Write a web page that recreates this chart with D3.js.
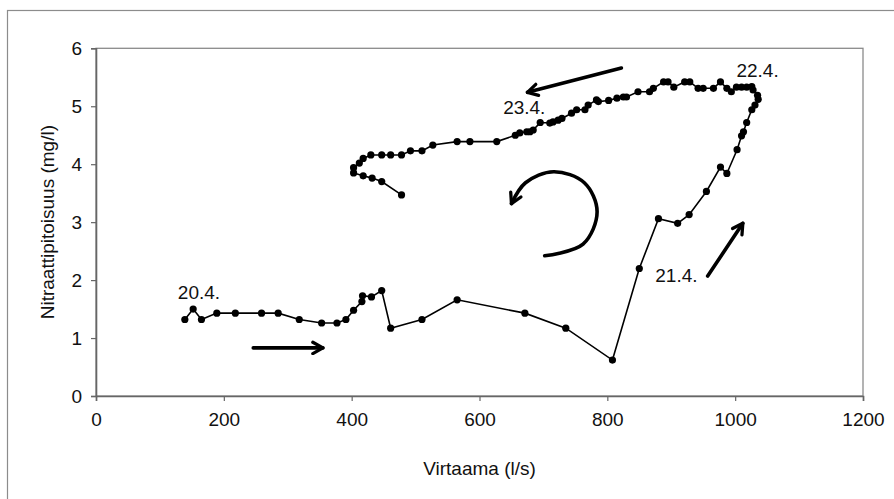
<!DOCTYPE html>
<html>
<head>
<meta charset="utf-8">
<script src="https://d3js.org/d3.v7.min.js"></script>
<style>
  html, body { margin: 0; padding: 0; background: #fff; }
  svg { display: block; }
  text { font-family: "Liberation Sans", Arial, sans-serif; fill: #111; }
</style>
</head>
<body>
<script>
// ---- Data ----
const flow = [139,152,165,189,218,259,285,318,353,377,391,403,416,417,431,447,461,510,565,671,735,808,
  850,880,910,928,955,977,987,1003,1010,1013,1018,1026,1031,1036,1035,1028,1026,1018,1010,1002,994,987,977,
  966,950,942,929,921,904,895,888,872,866,848,830,825,815,802,786,783,770,765,752,744,729,723,715,710,695,
  684,679,674,663,656,627,585,565,527,510,492,478,461,447,430,418,412,403,403,418,432,447,478];
const nitrate = [1.32,1.50,1.32,1.43,1.43,1.43,1.43,1.32,1.26,1.26,1.32,1.48,1.63,1.73,1.71,1.82,1.17,1.32,1.66,1.43,1.17,0.62,
  2.20,3.06,2.98,3.13,3.53,3.95,3.84,4.25,4.49,4.56,4.72,4.94,5.02,5.12,5.19,5.28,5.34,5.33,5.33,5.33,5.25,5.31,5.42,
  5.31,5.31,5.31,5.42,5.42,5.33,5.42,5.42,5.31,5.25,5.25,5.16,5.16,5.14,5.10,5.08,5.11,5.02,4.94,4.94,4.88,4.79,4.76,4.73,4.71,4.72,
  4.59,4.56,4.56,4.54,4.50,4.39,4.39,4.39,4.33,4.23,4.23,4.16,4.16,4.16,4.16,4.10,4.02,3.94,3.85,3.80,3.76,3.70,3.47];
const xTicks = [0,200,400,600,800,1000,1200];
const yTicks = [0,1,2,3,4,5,6];
const dateLabels = ["20.4.","21.4.","22.4.","23.4."];
const dateLabelX = [128,875,1002,637];
const dateLabelY = [1.67,1.97,5.51,4.87];
const xTitle = "Virtaama (l/s)";
const yTitle = "Nitraattipitoisuus (mg/l)";
// direction arrows (data space)
const arrowRight = [[246,0.83],[355,0.83]];
const arrowTop = [[822,5.66],[675,5.24]];
const arrowUp = [[957,2.07],[1012,2.98]];
const arrowCurl = [[702,2.42],[762,2.62],[784,3.18],[764,3.68],[716,3.87],[672,3.68],[650,3.32]];

// ---- Layout ----
const W = 894, H = 499;
const pLeft = 96, pRight = 863, pTop = 48.3, pBottom = 396;

const svg = d3.select("body").append("svg").attr("width", W).attr("height", H);

// outer chart border
svg.append("rect").attr("x", 7.5).attr("y", 10.5).attr("width", 900).attr("height", 500)
  .attr("fill", "#fff").attr("stroke", "#8c8c8c").attr("stroke-width", 1.2);

const x = d3.scaleLinear().domain([0, 1200]).range([pLeft, pRight]);
const y = d3.scaleLinear().domain([0, 6]).range([pBottom, pTop]);

// plot area border
svg.append("rect").attr("x", pLeft).attr("y", pTop).attr("width", pRight - pLeft).attr("height", pBottom - pTop)
  .attr("fill", "none").attr("stroke", "#8a8a8a").attr("stroke-width", 1.3);

// axes
const xAxis = d3.axisBottom(x).tickValues(xTicks).tickSize(5).tickPadding(12).tickFormat(d3.format("d"));
const yAxis = d3.axisLeft(y).tickValues(yTicks).tickSize(5).tickPadding(9).tickFormat(d3.format("d"));
const gx = svg.append("g").attr("transform", `translate(0,${pBottom})`).call(xAxis);
const gy = svg.append("g").attr("transform", `translate(${pLeft},0)`).call(yAxis);
[gx, gy].forEach(g => {
  g.select(".domain").attr("stroke", "#666").attr("stroke-width", 1.6);
  g.selectAll(".tick line").attr("stroke", "#666").attr("stroke-width", 1.2);
  g.selectAll(".tick text").attr("font-size", 19).attr("fill", "#111")
    .attr("font-family", "'Liberation Sans', Arial, sans-serif");
});

// axis titles
svg.append("text").attr("x", (pLeft + pRight) / 2).attr("y", 475).attr("text-anchor", "middle")
  .attr("font-size", 19).text(xTitle);
svg.append("text").attr("transform", `translate(54,${(pTop + pBottom) / 2}) rotate(-90)`)
  .attr("text-anchor", "middle").attr("font-size", 19).text(yTitle);

// data line + markers
const pts = flow.map((f, i) => [f, nitrate[i]]);
svg.append("path").datum(pts)
  .attr("d", d3.line().x(d => x(d[0])).y(d => y(d[1])))
  .attr("fill", "none").attr("stroke", "#000").attr("stroke-width", 1.6);
svg.append("g").selectAll("circle").data(pts).join("circle")
  .attr("cx", d => x(d[0])).attr("cy", d => y(d[1])).attr("r", 3.6).attr("fill", "#000");

// date labels
svg.append("g").selectAll("text").data(dateLabels).join("text")
  .attr("x", (d, i) => x(dateLabelX[i])).attr("y", (d, i) => y(dateLabelY[i]))
  .attr("font-size", 19).text(d => d);

// arrow marker
const defs = svg.append("defs");
defs.append("marker").attr("id", "ah").attr("viewBox", "0 0 12 12").attr("refX", 10).attr("refY", 6)
  .attr("markerWidth", 4.2).attr("markerHeight", 4.2).attr("markerUnits", "strokeWidth").attr("orient", "auto")
  .append("path").attr("d", "M2,1.5 L10,6 L2,10.5").attr("fill", "none").attr("stroke", "#000")
  .attr("stroke-width", 2.6).attr("stroke-linecap", "round").attr("stroke-linejoin", "round");

const straight = d3.line().x(d => x(d[0])).y(d => y(d[1]));
[arrowRight, arrowTop, arrowUp].forEach(a => {
  svg.append("path").attr("d", straight(a)).attr("fill", "none").attr("stroke", "#000")
    .attr("stroke-width", 3.6).attr("stroke-linecap", "round").attr("marker-end", "url(#ah)");
});
svg.append("path").attr("d", d3.line().curve(d3.curveCatmullRom).x(d => x(d[0])).y(d => y(d[1]))(arrowCurl))
  .attr("fill", "none").attr("stroke", "#000").attr("stroke-width", 3.6).attr("stroke-linecap", "round")
  .attr("marker-end", "url(#ah)");
</script>
</body>
</html>
